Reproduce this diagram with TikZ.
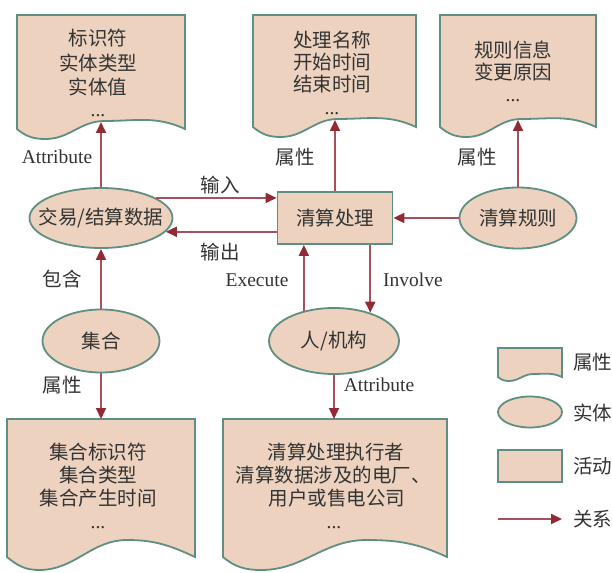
\documentclass[tikz,border=0pt]{standalone}
\usepackage{fontspec}
\setmainfont{Liberation Serif}
\newfontfamily\cjk{Noto Sans CJK SC}
\usetikzlibrary{arrows.meta,shapes.geometric,calc}
\definecolor{fillc}{HTML}{EDD3BF}
\definecolor{edgec}{HTML}{5F8F80}
\definecolor{arrc}{HTML}{A5505A}
\definecolor{headc}{HTML}{922A36}
\definecolor{textc}{HTML}{333333}
% doc shape: x0, ytop, x1, ybottom, dip amplitude, peak amplitude, peak fraction
\newcommand\mydocshape[7]{%
  \pgfmathsetmacro\dxp{#1+#7*(#3-#1)}%
  \pgfmathsetmacro\dxd{#1+0.17*(#3-#1)}%
  \pgfmathsetmacro\dyp{-#4+#6}%
  \pgfmathsetmacro\dyd{-#4-#5}%
  \path[shapeline] (#1,-#2) -- (#3,-#2) -- (#3,-#4)
  to[out=155,in=0] (\dxp,\dyp)
  to[out=180,in=0] (\dxd,\dyd)
  to[out=180,in=-40] (#1,-#4) -- cycle;}
\begin{document}
\begin{tikzpicture}[x=1pt,y=1pt,
  shapeline/.style={draw=edgec,line width=1.8pt,fill=fillc},
  ent/.style={shapeline,ellipse,inner sep=0pt,text=textc,font=\cjk\fontsize{19.5}{23}\selectfont},
  act/.style={shapeline,rectangle,inner sep=0pt,text=textc,font=\cjk\fontsize{19.5}{23}\selectfont},
  txt/.style={font=\cjk\fontsize{19.5}{23}\selectfont,inner sep=0pt,text=textc},
  lat/.style={font=\fontsize{19.5}{23}\selectfont,inner sep=0pt,text=textc},
  rel/.style={draw=arrc,line width=1.8pt,-{Triangle[length=11pt,width=10pt,color=headc]}},
]
\useasboundingbox (0,0) rectangle (612,-572);
\fill[white] (0,0) rectangle (612,-572);

% document (attribute) shapes
\mydocshape{17}{15}{185}{129}{10}{8}{0.52}
\mydocshape{253}{15}{416}{127}{10}{8}{0.52}
\mydocshape{440}{15}{596}{127}{10}{8}{0.52}
\mydocshape{7}{419}{195}{557}{13}{17}{0.64}
\mydocshape{223}{419}{447}{557}{13}{17}{0.64}
\mydocshape{498}{348}{562}{377}{4}{3}{0.55}

% arrow end points on document waves
\coordinate (a1) at (101,-122);
\coordinate (a2) at (335,-120);
\coordinate (a3) at (518,-120);
\coordinate (a4) at (101,-419);
\coordinate (a5) at (334,-419);

% document texts
\node[txt,anchor=base] (d1a) at (98,-45.5) {标识符};
\node[txt,anchor=base] (d1b) at (98,-70.5) {实体类型};
\node[txt,anchor=base] (d1c) at (98,-94.5) {实体值};
\node[lat,anchor=base] (d1d) at (98,-117) {...};
\node[txt,anchor=base] (d2a) at (332,-47.5) {处理名称};
\node[txt,anchor=base] (d2b) at (332,-69.5) {开始时间};
\node[txt,anchor=base] (d2c) at (332,-91.5) {结束时间};
\node[lat,anchor=base] (d2d) at (332,-115) {...};
\node[txt,anchor=base] (d3a) at (513,-57.5) {规则信息};
\node[txt,anchor=base] (d3b) at (513,-79.5) {变更原因};
\node[lat,anchor=base] (d3c) at (513,-102) {...};
\node[txt,anchor=base] (d4a) at (98,-459.5) {集合标识符};
\node[txt,anchor=base] (d4b) at (98,-482.5) {集合类型};
\node[txt,anchor=base] (d4c) at (98,-505.5) {集合产生时间};
\node[lat,anchor=base] (d4d) at (98,-528) {...};
\node[txt,anchor=base] (d5a) at (336,-459.5) {清算处理执行者};
\node[txt,anchor=base] (d5b) at (333,-482.5) {清算数据涉及的电厂、};
\node[txt,anchor=base] (d5c) at (337,-505.5) {用户或售电公司};
\node[lat,anchor=base] (d5d) at (334,-528) {...};

% entities and activity
\node[ent,minimum width=143pt,minimum height=60pt] (jy) at (101,-218) {\makebox[0pt]{交易/结算数据}};
\node[act,minimum width=115pt,minimum height=52pt] (cl) at (335,-218) {\makebox[0pt]{清算处理}};
\node[ent,minimum width=117pt,minimum height=61pt] (gz) at (518,-218) {\makebox[0pt]{清算规则}};
\node[ent,minimum width=117pt,minimum height=63pt] (jh) at (101,-341) {\makebox[0pt]{集合}};
\node[ent,minimum width=130pt,minimum height=66pt] (rr) at (334,-341) {\makebox[0pt]{人/机构}};

% relations
\draw[rel] (jy.north) -- (a1);
\draw[rel] (cl.north) -- (a2);
\draw[rel] (gz.north) -- (a3);
\draw[rel] (jy.20.6) -- (jy.20.6 -| cl.west);
\draw[rel] (cl.west |- jy.-12.5) -- (jy.-12.5);
\draw[rel] (gz.west) -- (cl.east);
\draw[rel] (jh.north) -- (jy.south);
\draw[rel] (rr.135.7) -- (rr.135.7 |- cl.south);
\draw[rel] (cl.south -| rr.38.5) -- (rr.38.5);
\draw[rel] (jh.south) -- (a4);
\draw[rel] (rr.south) -- (a5);

% relation labels
\node[lat] (l1) at (57,-157) {Attribute};
\node[txt] (l2) at (295,-157) {属性};
\node[txt] (l3) at (477,-157) {属性};
\node[txt] (l4) at (220,-185) {输入};
\node[txt] (l5) at (220,-252) {输出};
\node[txt] (l6) at (62,-279) {包含};
\node[lat] (l7) at (257,-280) {Execute};
\node[lat] (l8) at (413,-280) {Involve};
\node[txt] (l9) at (62,-385) {属性};
\node[lat] (l10) at (379,-385) {Attribute};

% legend
\node[ent,minimum width=64pt,minimum height=31pt] (lge) at (530,-412) {};
\node[act,minimum width=64pt,minimum height=32pt] (lgr) at (530,-466) {};
\coordinate (lg1) at (498,-519);
\coordinate (lg2) at (562,-519);
\draw[rel] (lg1) -- (lg2);
\node[txt,anchor=west] (k1) at (573,-362) {属性};
\node[txt,anchor=west] (k2) at (573,-413) {实体};
\node[txt,anchor=west] (k3) at (573,-466) {活动};
\node[txt,anchor=west] (k4) at (573,-519) {关系};
\end{tikzpicture}
\end{document}
